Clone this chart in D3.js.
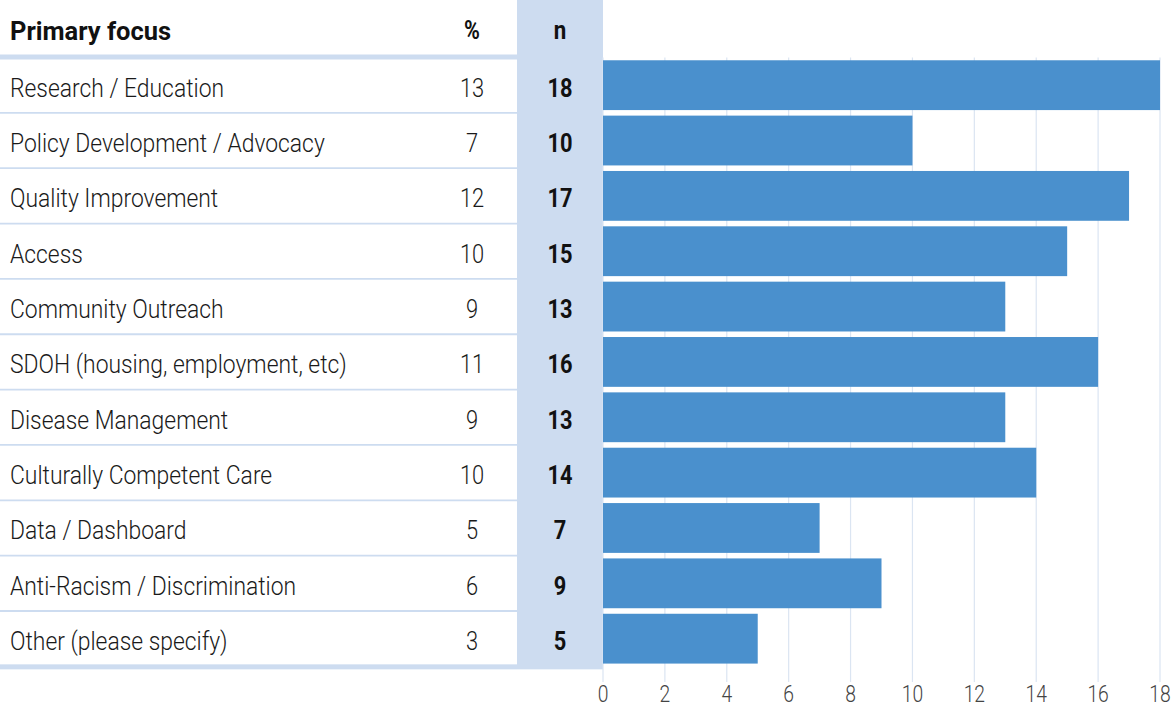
<!DOCTYPE html>
<html><head><meta charset="utf-8">
<script src="https://cdn.jsdelivr.net/npm/d3@7"></script>
<style>
body{margin:0;background:#fff;}
text{font-family:Roboto, "Open Sans", sans-serif;}
</style></head>
<body><svg id="c" width="1173" height="708"></svg>
<script>
const categories = ["Research / Education","Policy Development / Advocacy","Quality Improvement","Access","Community Outreach","SDOH (housing, employment, etc)","Disease Management","Culturally Competent Care","Data / Dashboard","Anti-Racism / Discrimination","Other (please specify)"];
const percents = [13,7,12,10,9,11,9,10,5,6,3];
const counts = [18,10,17,15,13,16,13,14,7,9,5];
const xTicks = [0,2,4,6,8,10,12,14,16,18];
const headers = ["Primary focus","%","n"];

const svg = d3.select("#c");
const topY = 57.5, rowH = 55.35, nRows = categories.length;
const x = d3.scaleLinear().domain([0,18]).range([603,1160]);
const y = d3.scaleBand().domain(categories).range([topY, topY+rowH*nRows]).paddingInner(0.1).paddingOuter(0.05);
const rowY = d3.scaleBand().domain(categories).range([topY, topY+rowH*nRows]);
const lightBlue = "#cddcf0";
const SX = 0.88;

// n column band
svg.append("rect").attr("x",517).attr("y",0).attr("width",86).attr("height",topY+rowH*nRows+3).attr("fill",lightBlue);

// gridlines
svg.append("g").selectAll("line").data(xTicks).join("line")
  .attr("x1",d=>x(d)).attr("x2",d=>x(d)).attr("y1",topY).attr("y2",682)
  .attr("stroke","#dbe5f2").attr("stroke-width",1.2);

// bars
svg.append("g").selectAll("rect").data(categories).join("rect")
  .attr("x",x(0)).attr("y",d=>y(d)).attr("width",(d,i)=>x(counts[i])-x(0)).attr("height",y.bandwidth())
  .attr("fill","#4a90cd");

// row separators
svg.append("g").selectAll("line").data(categories.slice(1)).join("line")
  .attr("x1",0).attr("x2",517).attr("y1",d=>rowY(d)).attr("y2",d=>rowY(d))
  .attr("stroke",lightBlue).attr("stroke-width",1.8);
// header line and bottom line
svg.append("rect").attr("x",0).attr("y",topY-3).attr("width",517).attr("height",5).attr("fill",lightBlue);
svg.append("rect").attr("x",0).attr("y",topY+rowH*nRows-2).attr("width",517).attr("height",5).attr("fill",lightBlue);

function sText(g, xPos, yPos, sx){
  return g.append("text").attr("transform",`translate(${xPos},${yPos}) scale(${sx},1)`);
}

// header texts
sText(svg,10,40,0.98).attr("font-size",26).attr("font-weight",700).attr("fill","#111").text(headers[0]);
sText(svg,472,39,0.86).attr("text-anchor","middle").attr("font-size",25).attr("font-weight",700).attr("fill","#111").text(headers[1]);
sText(svg,560,39,0.86).attr("text-anchor","middle").attr("font-size",26).attr("font-weight",700).attr("fill","#111").text(headers[2]);

// row texts
const rows = svg.append("g").selectAll("g").data(categories).join("g")
  .attr("transform",d=>`translate(0,${rowY(d)+rowH/2+11.5})`);
rows.each(function(d,i){
  const g = d3.select(this);
  sText(g,10,0,SX).attr("font-size",26).attr("font-weight",300).attr("fill","#1a1a1a").text(d);
  sText(g,472,0,0.84).attr("text-anchor","middle").attr("font-size",26).attr("font-weight",300).attr("fill","#1a1a1a").text(percents[i]);
  sText(g,560,0,0.84).attr("text-anchor","middle").attr("font-size",26).attr("font-weight",700).attr("fill","#111").text(counts[i]);
});

// x axis tick labels
const tg = svg.append("g");
xTicks.forEach(t=>{
  sText(tg,x(t),702,0.84).attr("text-anchor","middle").attr("font-size",23).attr("font-weight",300).attr("fill","#444").text(t);
});
</script></body></html>
